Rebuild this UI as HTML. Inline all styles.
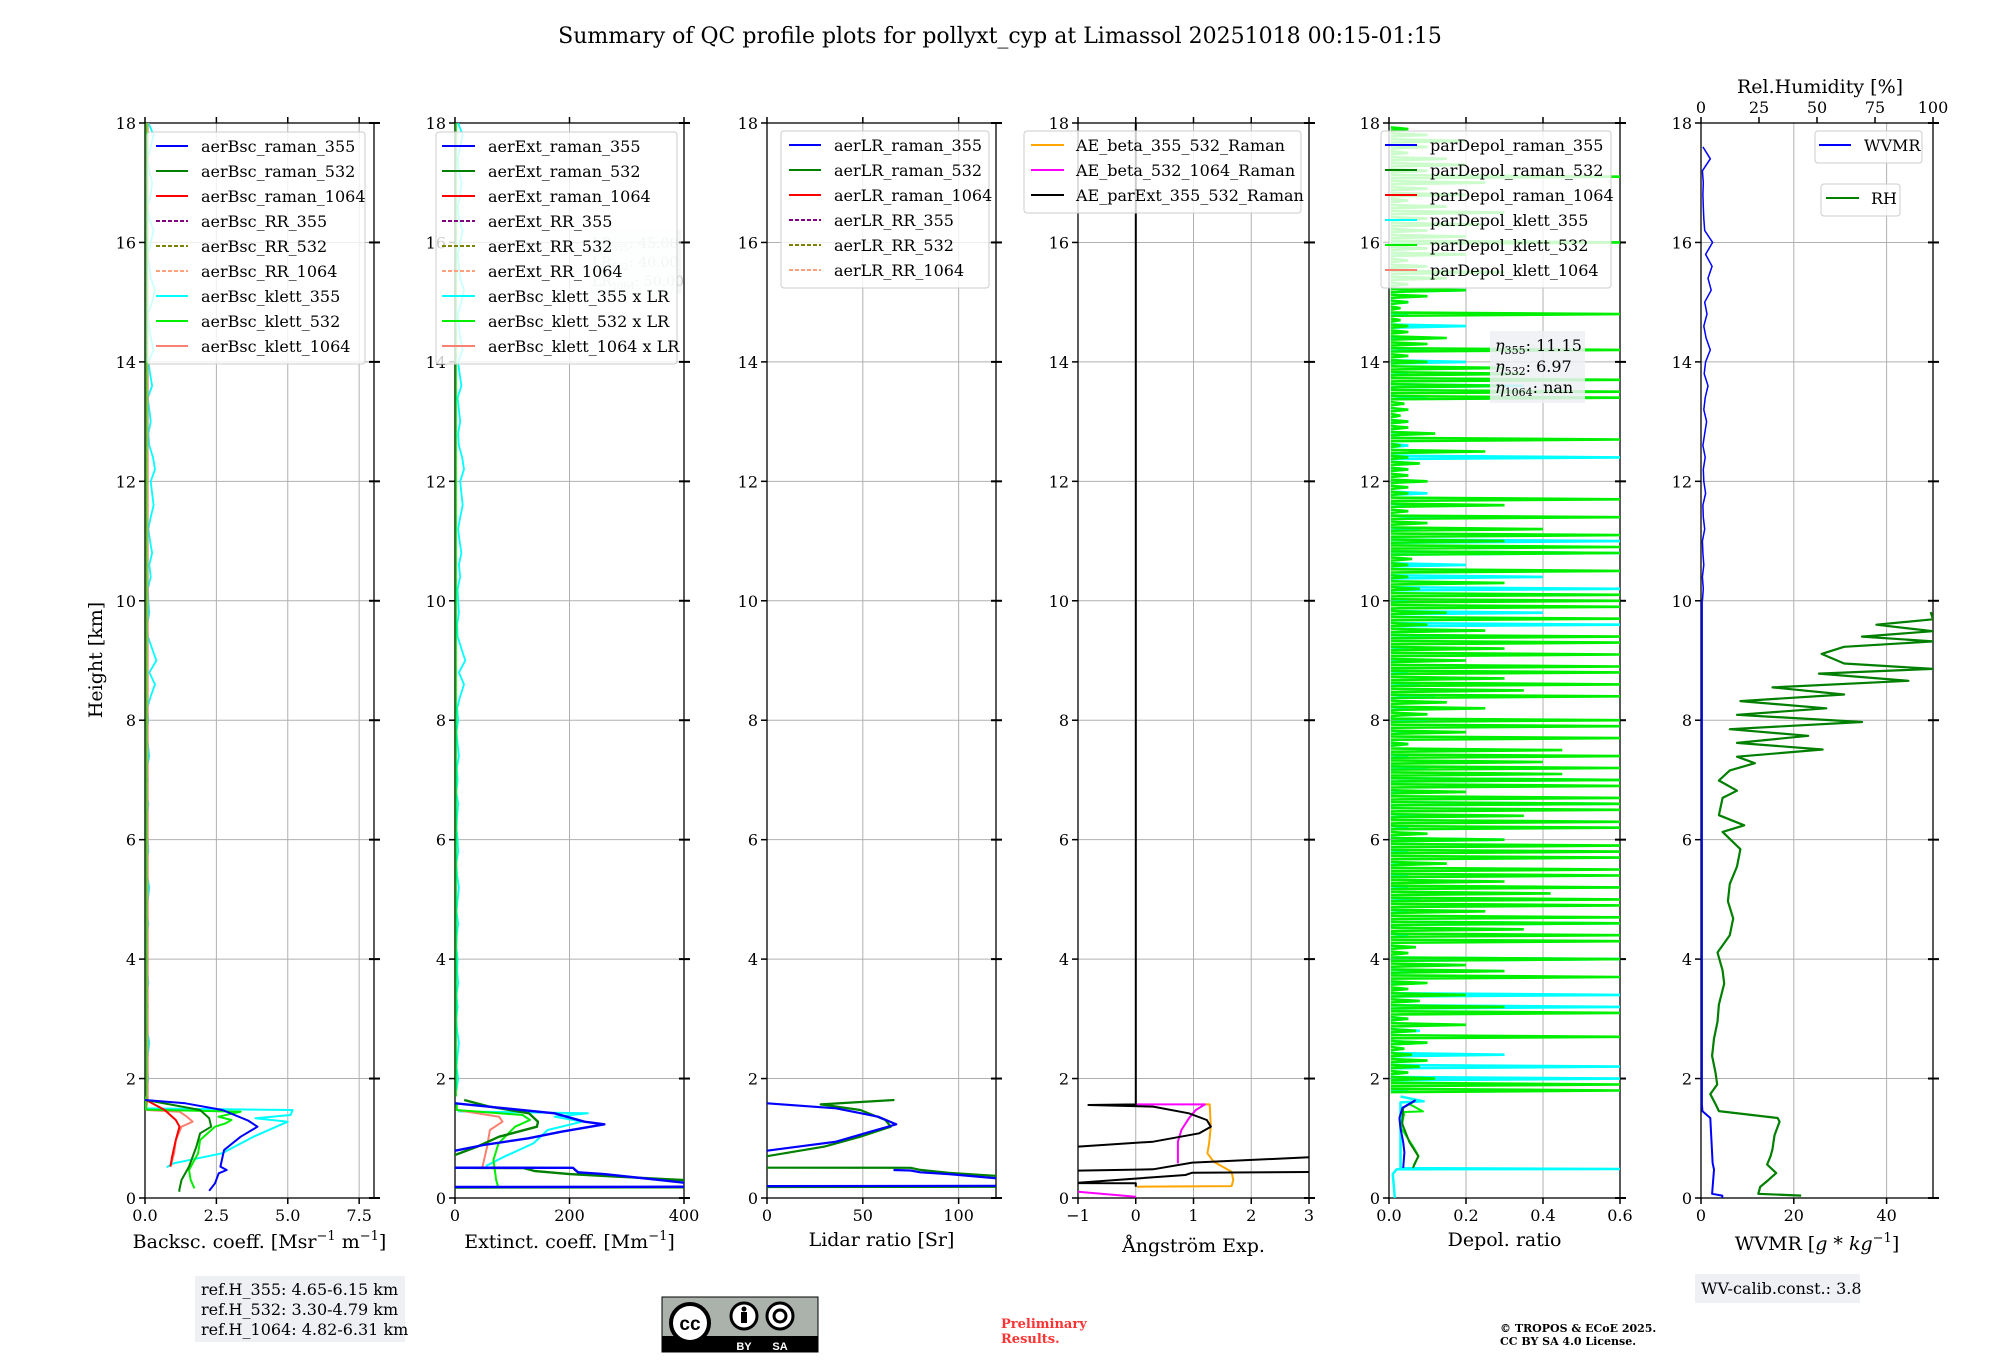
<!DOCTYPE html>
<html><head><meta charset="utf-8">
<style>
html,body{margin:0;padding:0;background:#fff;}
svg{display:block;font-family:"DejaVu Serif","Liberation Serif",serif;}
</style></head>
<body>
<svg id="fig" width="2000" height="1360" viewBox="0 0 2000 1360" xmlns="http://www.w3.org/2000/svg">
<rect x="0" y="0" width="2000" height="1360" fill="#fff"/>
<text x="1000" y="43" font-size="22" text-anchor="middle">Summary of QC profile plots for pollyxt_cyp at Limassol 20251018 00:15-01:15</text>
<text x="0" y="0" font-size="19" text-anchor="middle" transform="translate(102,660) rotate(-90)">Height [km]</text>
<g id="plots"></g>
<g id="overlay"></g>
<!-- bottom annotations -->
<rect x="195" y="1276" width="210" height="66" fill="#eef0f4"/>
<text x="201" y="1295" font-size="16">ref.H_355: 4.65-6.15 km</text>
<text x="201" y="1315" font-size="16">ref.H_532: 3.30-4.79 km</text>
<text x="201" y="1335" font-size="16">ref.H_1064: 4.82-6.31 km</text>
<g>
<rect x="662" y="1297" width="156" height="55" fill="#aab2ab" stroke="#000" stroke-width="1"/>
<rect x="662" y="1336" width="156" height="16" fill="#000"/>
<circle cx="690" cy="1323" r="19" fill="#fff" stroke="#000" stroke-width="4"/>
<text x="690" y="1330" font-size="19" font-weight="bold" text-anchor="middle" font-family="Liberation Sans, sans-serif">cc</text>
<circle cx="744" cy="1316" r="13" fill="#fff" stroke="#000" stroke-width="3"/>
<circle cx="744" cy="1309" r="2.5" fill="#000"/>
<rect x="741" y="1312" width="6" height="11" fill="#000"/>
<circle cx="780" cy="1316" r="13" fill="#fff" stroke="#000" stroke-width="3"/>
<circle cx="780" cy="1316" r="6" fill="none" stroke="#000" stroke-width="3"/>
<text x="744" y="1350" font-size="11" fill="#fff" text-anchor="middle" font-weight="bold" font-family="Liberation Sans, sans-serif">BY</text>
<text x="780" y="1350" font-size="11" fill="#fff" text-anchor="middle" font-weight="bold" font-family="Liberation Sans, sans-serif">SA</text>
</g>
<text x="1001" y="1328" font-size="13" font-weight="bold" fill="#ff3333">Preliminary</text>
<text x="1001" y="1343" font-size="13" font-weight="bold" fill="#ff3333">Results.</text>
<text x="1500" y="1332" font-size="11" font-weight="bold">© TROPOS &amp; ECoE 2025.</text>
<text x="1500" y="1345" font-size="11" font-weight="bold">CC BY SA 4.0 License.</text>
<rect x="1695" y="1274" width="165" height="29" fill="#eef0f4"/>
<text x="1701" y="1294" font-size="16">WV-calib.const.: 3.8</text>
</svg>
<script>
// ---------- DATA ----------
// Panel 1: backscatter [Msr-1 m-1]
const bscRaman355H=[1.641,1.585,1.474,1.30,1.194,1.027,0.804,0.525,0.469,0.413,0.246,0.12];
const bscRaman355V=[0.0,1.41,2.71,3.6,3.94,3.35,2.77,2.64,2.86,2.58,2.45,2.25];
const bscRaman532H=[1.641,1.474,1.334,1.194,1.083,0.86,0.525,0.301,0.134,0.106];
const bscRaman532V=[0.04,1.93,2.25,2.32,1.93,1.80,1.54,1.28,1.20,1.21];
const bscRaman1064H=[1.641,1.474,1.306,1.194,0.971,0.692,0.525];
const bscRaman1064V=[0.04,0.69,1.08,1.21,1.08,0.95,0.89];
const bscKlett355H=[1.60,1.50,1.474,1.39,1.334,1.278,1.194,1.027,0.748,0.581,0.514];
const bscKlett355V=[0.05,0.05,5.17,5.1,3.87,5.0,4.6,3.8,2.7,1.0,0.76];
const bscKlett532H=[1.70,1.48,1.445,1.362,1.306,1.25,1.194,0.971,0.748,0.469,0.301,0.162];
const bscKlett532V=[0.03,0.03,3.35,2.57,3.03,2.83,2.45,1.93,1.86,1.54,1.60,1.73];
const bscKlett1064H=[1.70,1.474,1.445,1.362,1.278,1.194,0.971,0.748,0.525];
const bscKlett1064V=[0.1,0.04,1.21,1.47,1.67,1.28,1.08,1.02,0.89];
const bscNoiseH0=1.8, bscNoiseStep=0.2;
const bscKlett355Noise=[0.05,0.12,0.06,0.1,0.15,0.08,0.05,0.1,0.06,0.12,0.08,0.1,0.05,0.07,0.12,0.06,0.1,0.15,0.08,0.05,0.12,0.1,0.06,0.08,0.12,0.05,0.1,0.07,0.15,0.1,0.06,0.12,0.08,0.2,0.35,0.15,0.4,0.25,0.1,0.08,0.15,0.12,0.1,0.2,0.15,0.25,0.18,0.12,0.2,0.3,0.25,0.2,0.35,0.28,0.15,0.12,0.2,0.15,0.1,0.25,0.18,0.12,0.3,0.2,0.15,0.1,0.25,0.35,0.2,0.15,0.1,0.2,0.3,0.15,0.1,0.2,0.25,0.15,0.1,0.2,0.3,0.12];
const lr355=45.0, lr532=40.0, lr1064=50.0;
// Panel 2: extinction [Mm-1]
const extRaman355H=[1.585,1.418,1.278,1.234,1.11,0.999,0.887,0.792,0.78,0.52,0.508,0.505,0.47,0.43,0.40,0.32,0.234,0.19,0.185,0.17];
const extRaman355V=[0,174,226,261,186,128,50,0,-20,-20,0,206,210,215,260,340,420,420,-20,-20];
const extRaman532H=[1.641,1.53,1.418,1.278,1.194,1.027,0.86,0.72,0.70,0.52,0.505,0.50,0.45,0.40,0.36,0.30,0.26,0.18,0.175];
const extRaman532V=[16,60,129,145,143,77,39,0,-20,-20,0,120,140,200,280,400,440,440,-20];
const extKlett355H=[1.45,1.418,1.362,1.278,1.139,0.915,0.692,0.536];
const extKlett355V=[5,232,174,222,162,137,86,54];
const extKlett532H=[1.6,1.474,1.39,1.306,1.194,0.915,0.636,0.301,0.162];
const extKlett532V=[3,3,118,131,105,76,67,72,76];
const extKlett1064H=[1.5,1.474,1.362,1.278,1.139,0.86,0.525];
const extKlett1064V=[2,3,77,83,61,56,48];
// Panel 3: lidar ratio [Sr]
const lrRaman355H=[1.585,1.502,1.362,1.234,1.11,0.943,0.792,null,0.469,0.46,0.43,0.40,0.33,0.30,null,0.205,0.200];
const lrRaman355V=[0,36,58,67.4,54,36,0,null,66,75,80,95,120,130,null,130,0];
const lrRaman532H=[1.641,1.568,1.474,1.306,1.194,1.027,0.86,0.70,null,0.508,0.505,0.47,0.42,0.38,0.36,null,0.19,0.185];
const lrRaman532V=[66.5,28,48.7,61.8,64.6,48.7,30,0,null,0,75,80,95,115,125,null,125,0];
// Panel 4: Angstrom exponents
const aeParExtH=[18,1.568,1.557,1.53,1.418,1.306,1.194,1.083,0.943,0.86,0.84,0.47,0.458,0.48,0.592,0.681,0.69,0.43,0.436,0.424,0.385,0.257,0.25,0.246,0.19];
const aeParExtV=[0,0,-0.82,0.30,0.92,1.23,1.30,1.10,0.30,-1.0,-1.5,-1.5,-1.0,0.30,0.98,3.0,3.5,3.5,3.0,0.98,0.86,-1.0,-1.5,0,0];
const aeBeta532H=[1.568,1.568,1.474,1.334,1.139,0.943,0.58,null,0.106,0.022];
const aeBeta532V=[0,1.20,1.04,0.92,0.79,0.73,0.73,null,-1.0,0.0];
const aeBeta355H=[1.568,1.568,1.194,0.915,0.748,0.608,0.441,0.301,0.20,0.19];
const aeBeta355V=[1.20,1.28,1.30,1.27,1.24,1.35,1.66,1.69,1.66,0.02];
// Panel 5: particle depolarisation
const dpRaman355H=[1.64,1.512,1.34,1.167,0.936,0.763,0.504];
const dpRaman355V=[0.069,0.035,0.027,0.03,0.037,0.04,0.037];
const dpRaman532H=[1.62,1.512,1.25,0.936,0.70,0.504];
const dpRaman532V=[0.066,0.037,0.034,0.053,0.076,0.062];
const dpKlett532LowH=[1.58,1.45,1.44,1.167,0.85,0.70,0.55];
const dpKlett532LowV=[0.051,0.088,0.04,0.032,0.064,0.077,0.064];
const dpKlett355LowH=[1.7,1.62,1.6,0.50,0.485,0.48,0.40,0.0];
const dpKlett355LowV=[0.03,0.09,0.03,0.03,0.6,0.02,0.01,0.015];
const dpLimeH0=1.8, dpLimeStep=0.1;
const dpKlett532Spikes=[0.6,0.6,0.12,0.05,0.08,0.1,0.06,0.04,0.1,0.6,0.07,0.2,0.05,0.6,0.3,0.08,0.2,0.05,0.1,0.6,0.3,0.2,0.6,0.05,0.07,0.6,0.6,0.35,0.6,0.6,0.25,0.6,0.6,0.42,0.6,0.3,0.6,0.6,0.15,0.6,0.6,0.6,0.3,0.1,0.6,0.6,0.35,0.6,0.6,0.6,0.2,0.6,0.6,0.45,0.6,0.4,0.6,0.45,0.05,0.6,0.2,0.6,0.6,0.1,0.25,0.15,0.6,0.35,0.6,0.3,0.6,0.6,0.2,0.6,0.3,0.6,0.6,0.25,0.1,0.6,0.15,0.6,0.6,0.6,0.08,0.3,0.05,0.6,0.05,0.06,0.6,0.6,0.3,0.6,0.4,0.1,0.6,0.05,0.3,0.6,0.05,0.05,0.1,0.05,0.05,0.08,0.05,0.25,0.03,0.6,0.12,0.05,0.05,0.03,0.05,0.04,0.6,0.6,0.3,0.6,0.35,0.3,0.1,0.05,0.6,0.1,0.15,0.05,0.05,0.03,0.6,0.03,0.05,0.1,0.2,0.05,0.15,0.3,0.1,0.05,0.2,0.1,0.6,0.2,0.1,0.25,0.1,0.3,0.15,0.05,0.2,0.1,0.25,0.6,0.1,0.2,0.15,0.05,0.1,0.2,0.1,0.05];
const dpCyanH0=1.8, dpCyanStep=0.2;
const dpKlett355Spikes=[0.05,0.6,0.6,0.3,0.1,0.08,0.05,0.6,0.6,0.05,0.2,0.6,0.05,0.05,0.6,0.05,0.08,0.05,0.05,0.06,0.05,0.3,0.05,0.1,0.6,0.05,0.6,0.1,0.05,0.05,0.05,0.1,0.05,0.12,0.08,0.05,0.05,0.05,0.3,0.6,0.4,0.05,0.6,0.4,0.2,0.6,0.6,0.08,0.2,0.05,0.1,0.08,0.05,0.6,0.05,0.1,0.05,0.04,0.1,0.35,0.05,0.2,0.1,0.05,0.2,0.05,0.05,0.2,0.1,0.05,0.08,0.05];
const etaLabels=["11.15","6.97","nan"];
// Panel 6: WVMR [g/kg] and RH [%]
const wvmrH=[0.0,0.04,0.07,0.475,0.59,1.34,1.455,1.57,10.0];
const wvmrV=[4.6,4.6,2.4,2.8,2.5,2.0,0.3,0.2,0.2];
const wvmrUpH0=10.0, wvmrUpStep=0.2;
const wvmrUpper=[0.3,0.5,0.3,0.6,0.4,0.3,0.8,0.5,0.4,1.0,0.6,0.5,0.9,0.4,0.8,1.2,0.6,0.9,1.5,0.7,1.0,2.0,1.1,0.6,1.3,0.8,2.2,1.5,2.4,1.0,2.5,0.8,0.6,0.5,0.4,0.5,0.3,2.0,0.4];
const rhH=[0.04,0.07,0.186,0.30,0.417,0.561,0.70,0.82,1.05,1.28,1.34,1.455,1.57,1.74,1.9,2.09,2.38,2.67,2.95,3.24,3.59,3.81,4.11,4.40,4.68,4.97,5.26,5.55,5.84,6.13,6.24,6.41,6.70,6.82,6.99,7.16,7.28,7.39,7.51,7.62,7.74,7.85,7.97,8.09,8.2,8.32,8.43,8.55,8.66,8.78,8.86,8.95,9.11,9.23,9.32,9.40,9.49,9.60,9.69,9.81];
const rhV=[43.2,24.7,25.5,29,32.4,28.5,30,30.8,31.7,33.9,33,7.7,6.3,4.0,7,6.3,4.8,5.6,7.1,7.7,10.0,9.3,7.1,12.4,13.9,11.6,12.4,15.5,17,9.3,18.6,7.7,9.3,15.5,7.7,12.4,23.2,15.5,52.4,15.5,46.2,12.4,69.4,15.5,54,17,61.7,30.8,89.4,50.8,100,61.7,52,61.7,100,69.4,100,75.6,100,99];
// tick labels
const p1Ticks=[0,2.5,5,7.5], p1TickLabels=["0.0","2.5","5.0","7.5"];
const p2Ticks=[0,200,400], p2TickLabels=["0","200","400"];
const p3Ticks=[0,50,100], p3TickLabels=["0","50","100"];
const p4Ticks=[-1,0,1,2,3], p4TickLabels=["\u22121","0","1","2","3"];
const p5Ticks=[0,0.2,0.4,0.6], p5TickLabels=["0.0","0.2","0.4","0.6"];
const p6Ticks=[0,20,40], p6TickLabels=["0","20","40"];
const rhTicks=[0,25,50,75,100], rhTickLabels=["0","25","50","75","100"];
const yTicks=[0,2,4,6,8,10,12,14,16,18];

// ---------- LAYOUT ----------
const NS="http://www.w3.org/2000/svg";
const Y0=1198, Y18=123;
const panels=[
 {l:145,r:374,min:0,max:8.02,ticks:p1Ticks,labels:p1TickLabels},
 {l:455,r:684,min:0,max:400,ticks:p2Ticks,labels:p2TickLabels},
 {l:767,r:996,min:0,max:119.5,ticks:p3Ticks,labels:p3TickLabels},
 {l:1078,r:1309,min:-1,max:3,ticks:p4Ticks,labels:p4TickLabels},
 {l:1389,r:1620,min:0,max:0.6,ticks:p5Ticks,labels:p5TickLabels},
 {l:1701,r:1933,min:0,max:50,ticks:p6Ticks,labels:p6TickLabels}
];
function ys(h){return Y0-(h/18)*(Y0-Y18);}
function xs(p,v){const P=panels[p];return P.l+(v-P.min)/(P.max-P.min)*(P.r-P.l);}
function xsRH(v){const P=panels[5];return P.l+v/100*(P.r-P.l);}
function mk(tag,attrs,parent){const e=document.createElementNS(NS,tag);for(const k in attrs)e.setAttribute(k,attrs[k]);(parent||plots).appendChild(e);return e;}
const plots=document.getElementById('plots');
const overlay=document.getElementById('overlay');

const defs=mk('defs',{});
panels.forEach((P,i)=>{
  const cp=mk('clipPath',{id:'clip'+i},defs);
  mk('rect',{x:P.l,y:Y18,width:P.r-P.l,height:Y0-Y18},cp);
});

// grids & axes
panels.forEach((P,i)=>{
  const g=mk('g',{});
  
  
  yTicks.forEach(t=>{
    const y=ys(t);
    const gl=mk('line',{x1:P.l,x2:P.r,y1:y,y2:y,stroke:'#b0b0b0','stroke-width':1},g);
    
    
    mk('line',{x1:P.l-6,x2:P.l,y1:y,y2:y,stroke:'#000','stroke-width':1.5},g);
    mk('line',{x1:P.r-5,x2:P.r+6,y1:y,y2:y,stroke:'#000','stroke-width':2},g);
    const tl=mk('text',{x:P.l-9,y:y+6,'font-size':16,'text-anchor':'end'},g);
    tl.textContent=String(t);
    
    
  });
  P.ticks.forEach((t,k)=>{
    const x=xs(i,t);
    if(t>P.min&&t<P.max){
      const gl=mk('line',{x1:x,x2:x,y1:Y18,y2:Y0,stroke:'#b0b0b0','stroke-width':1},g);
      
      
    }
    mk('line',{x1:x,x2:x,y1:Y0,y2:Y0+6,stroke:'#000','stroke-width':1.5},g);
    if(i!==5) mk('line',{x1:x,x2:x,y1:Y18-6,y2:Y18,stroke:'#000','stroke-width':1.5},g);
    const tl=mk('text',{x:x,y:Y0+23,'font-size':16,'text-anchor':'middle'},g);
    tl.textContent=P.labels[k];
    
    
  });
  const sp=mk('rect',{x:P.l,y:Y18,width:P.r-P.l,height:Y0-Y18,fill:'none',stroke:'#000','stroke-width':1.3},g);
  
  
});
// RH top axis
rhTicks.forEach((t,k)=>{
  const x=xsRH(t);
  mk('line',{x1:x,x2:x,y1:Y18-6,y2:Y18,stroke:'#000','stroke-width':1.5});
  const tl=mk('text',{x:x,y:Y18-10,'font-size':16,'text-anchor':'middle'});
  tl.textContent=rhTickLabels[k];
  
  
});

// series drawing
function series(p,H,V,color,w,name,opts){
  opts=opts||{};
  let d='',pen=false;
  for(let k=0;k<H.length;k++){
    if(H[k]===null||V[k]===null){pen=false;continue;}
    const x=opts.rh?xsRH(V[k]):xs(p,V[k]);
    d+=(pen?'L':'M')+x.toFixed(1)+' '+ys(H[k]).toFixed(1)+' ';
    pen=true;
  }
  const e=mk('path',{d:d,fill:'none',stroke:color,'stroke-width':w,'clip-path':'url(#clip'+p+')','stroke-linejoin':'round'});
  if(opts.opacity) e.setAttribute('stroke-opacity',opts.opacity);
  
  
  return e;
}
function noiseSeries(p,h0,step,vals,scale,color,w,name){
  const H=[],V=[];
  vals.forEach((v,k)=>{H.push(h0+k*step);V.push(v*scale);});
  return series(p,H,V,color,w,name);
}
function spikes(p,h0,step,vals,color,w,name,opacityAbove){
  const g=mk('g',{'clip-path':'url(#clip'+p+')'});
  
  
  let d='';
  vals.forEach((v,k)=>{
    const h=h0+k*step;
    const y=ys(h);
    d+='M'+xs(p,0.005).toFixed(1)+' '+(y+1.6).toFixed(1)+' L'+xs(p,v).toFixed(1)+' '+y.toFixed(1)+' L'+xs(p,0.005).toFixed(1)+' '+(y-1.6).toFixed(1)+' ';
  });
  mk('path',{d:d,fill:'none',stroke:color,'stroke-width':w},g);
}

// Panel 1
noiseSeries(0,bscNoiseH0,bscNoiseStep,bscKlett355Noise,1,'#00ffff',1.8,'bsc-klett-355-upper');
series(0,[1.7,18],[0.05,0.05],'#00ee00',1.5,'bsc-klett-532-upper');
series(0,[1.7,18],[0.1,0.1],'#fa8072',1.5,'bsc-klett-1064-upper');
series(0,bscKlett355H,bscKlett355V,'#00ffff',2,'bsc-klett-355');
series(0,bscKlett1064H,bscKlett1064V,'#fa8072',2,'bsc-klett-1064');
series(0,bscKlett532H,bscKlett532V,'#00ee00',2,'bsc-klett-532');
series(0,bscRaman1064H,bscRaman1064V,'#ff0000',2,'bsc-raman-1064');
series(0,bscRaman532H,bscRaman532V,'#008000',2,'bsc-raman-532');
series(0,bscRaman355H,bscRaman355V,'#0000ff',2,'bsc-raman-355');
// Panel 2
noiseSeries(1,bscNoiseH0,bscNoiseStep,bscKlett355Noise,lr355,'#00ffff',1.8,'ext-klett-355-upper');
series(1,[1.7,18],[0.05*lr532,0.05*lr532],'#00ee00',1.5,'ext-klett-532-upper');
series(1,extKlett355H,extKlett355V,'#00ffff',2,'ext-klett-355');
series(1,extKlett1064H,extKlett1064V,'#fa8072',2,'ext-klett-1064');
series(1,extKlett532H,extKlett532V,'#00ee00',2,'ext-klett-532');
series(1,extRaman532H,extRaman532V,'#008000',2.4,'ext-raman-532');
series(1,extRaman355H,extRaman355V,'#0000ff',2.4,'ext-raman-355');
// Panel 3
series(2,lrRaman532H,lrRaman532V,'#008000',2.2,'lr-raman-532');
series(2,lrRaman355H,lrRaman355V,'#0000ff',2.2,'lr-raman-355');
// Panel 4
series(3,aeBeta355H,aeBeta355V,'#ffa500',2,'ae-beta-355-532');
series(3,aeBeta532H,aeBeta532V,'#ff00ff',2,'ae-beta-532-1064');
series(3,aeParExtH,aeParExtV,'#000000',2,'ae-parext-355-532');
// Panel 5
spikes(4,dpCyanH0,dpCyanStep,dpKlett355Spikes,'#00ffff',2.6,'depol-klett-355');
spikes(4,dpLimeH0,dpLimeStep,dpKlett532Spikes,'#00ee00',2.6,'depol-klett-532');
series(4,dpKlett355LowH,dpKlett355LowV,'#00ffff',2.5,'depol-klett-355-low');
series(4,dpKlett532LowH,dpKlett532LowV,'#00ee00',2,'depol-klett-532-low');
series(4,dpRaman532H,dpRaman532V,'#008000',2,'depol-raman-532');
series(4,dpRaman355H,dpRaman355V,'#0000ff',2,'depol-raman-355');
// Panel 6
series(5,rhH,rhV,'#007f00',2.2,'rh-profile',{rh:true});
series(5,wvmrH,wvmrV,'#0000ff',2,'wvmr-profile');
noiseSeries(5,wvmrUpH0,wvmrUpStep,wvmrUpper,1,'#0000ff',1.5,'wvmr-upper');

// x axis labels
function axisLabel(i,y,parts,name){
  const P=panels[i];
  const t=mk('text',{x:(P.l+P.r)/2,y:y,'font-size':19,'text-anchor':'middle'},overlay);
  t.innerHTML=parts;
  
  
}
axisLabel(0,1248,'Backsc. coeff. [Msr<tspan dy="-8" font-size="13">\u22121</tspan><tspan dy="8"> m</tspan><tspan dy="-8" font-size="13">\u22121</tspan><tspan dy="8">]</tspan>','x-axis-title-backscatter');
axisLabel(1,1248,'Extinct. coeff. [Mm<tspan dy="-8" font-size="13">\u22121</tspan><tspan dy="8">]</tspan>','x-axis-title-extinction');
axisLabel(2,1246,'Lidar ratio [Sr]','x-axis-title-lidar-ratio');
axisLabel(3,1252,'\u00c5ngstr\u00f6m Exp.','x-axis-title-angstrom');
axisLabel(4,1246,'Depol. ratio','x-axis-title-depol');
axisLabel(5,1250,'WVMR [<tspan font-style="italic">g</tspan> * <tspan font-style="italic">kg</tspan><tspan dy="-8" font-size="13">\u22121</tspan><tspan dy="8">]</tspan>','x-axis-title-wvmr');
{
  const t=mk('text',{x:1820,y:93,'font-size':19,'text-anchor':'middle'},overlay);
  t.textContent='Rel.Humidity [%]';
  
  
}

// legends
function legend(x,y,w,entries,name,rowH,sx0,sx1,tx){
  const g=mk('g',{},overlay);
  
  
  mk('rect',{x:x,y:y,width:w,height:entries.length*rowH+7,rx:3,fill:'#fff','fill-opacity':0.8,stroke:'#cccccc','stroke-width':1},g);
  entries.forEach((e,k)=>{
    const cy=y+14+k*rowH;
    const ln=mk('line',{x1:sx0,x2:sx1,y1:cy,y2:cy,stroke:e[1],'stroke-width':2},g);
    if(e[2]) ln.setAttribute('stroke-dasharray','4,2');
    
    
    const t=mk('text',{x:tx,y:cy+6,'font-size':16},g);
    t.textContent=e[0];
    
    
  });
}
legend(147,132,218,[['aerBsc_raman_355','#0000ff'],['aerBsc_raman_532','#008000'],['aerBsc_raman_1064','#ff0000'],['aerBsc_RR_355','#800080',1],['aerBsc_RR_532','#808000',1],['aerBsc_RR_1064','#ffa07a',1],['aerBsc_klett_355','#00ffff'],['aerBsc_klett_532','#00ee00'],['aerBsc_klett_1064','#fa8072']],'legend-backscatter',25,156,188,201);
// LR text box in panel 2 (behind legend text, faint)
{
  const g=mk('g',{},overlay);
  
  
  mk('rect',{x:589,y:230,width:92,height:64,fill:'#eef0f4','fill-opacity':0.5},g);
  [['355',lr355],['532',lr532],['1064',lr1064]].forEach((r,k)=>{
    const t=mk('text',{x:592,y:248+k*19,'font-size':14,fill:'#c8c8c8'},g);
    t.innerHTML='LR<tspan font-size="9" dy="3">'+r[0]+'</tspan><tspan dy="-3">: '+r[1].toFixed(2)+'</tspan>';
  });
}
legend(436,132,241,[['aerExt_raman_355','#0000ff'],['aerExt_raman_532','#008000'],['aerExt_raman_1064','#ff0000'],['aerExt_RR_355','#800080',1],['aerExt_RR_532','#808000',1],['aerExt_RR_1064','#ffa07a',1],['aerBsc_klett_355 x LR','#00ffff'],['aerBsc_klett_532 x LR','#00ee00'],['aerBsc_klett_1064 x LR','#fa8072']],'legend-extinction',25,442,475,488);
legend(781,131,208,[['aerLR_raman_355','#0000ff'],['aerLR_raman_532','#008000'],['aerLR_raman_1064','#ff0000'],['aerLR_RR_355','#800080',1],['aerLR_RR_532','#808000',1],['aerLR_RR_1064','#ffa07a',1]],'legend-lidar-ratio',25,789,821,834);
legend(1024,131,277,[['AE_beta_355_532_Raman','#ffa500'],['AE_beta_532_1064_Raman','#ff00ff'],['AE_parExt_355_532_Raman','#000000']],'legend-angstrom',25,1031,1064,1076);
legend(1381,131,230,[['parDepol_raman_355','#0000ff'],['parDepol_raman_532','#008000'],['parDepol_raman_1064','#ff0000'],['parDepol_klett_355','#00ffff'],['parDepol_klett_532','#00ee00'],['parDepol_klett_1064','#fa8072']],'legend-depol',25,1385,1417,1430);
legend(1815,131,107,[['WVMR','#0000ff']],'legend-wvmr',25,1819,1851,1864);
legend(1821,184,79,[['RH','#007f00']],'legend-rh',25,1826,1859,1871);
// eta box
{
  const g=mk('g',{},overlay);
  
  
  mk('rect',{x:1490,y:331,width:95,height:72,fill:'#eef0f4','fill-opacity':0.85},g);
  ['355','532','1064'].forEach((wl,k)=>{
    const t=mk('text',{x:1495,y:351+k*21,'font-size':16},g);
    t.innerHTML='<tspan font-style="italic">\u03b7</tspan><tspan font-size="11" dy="3">'+wl+'</tspan><tspan dy="-3">: '+etaLabels[k]+'</tspan>';
  });
}
</script>
</body></html>
